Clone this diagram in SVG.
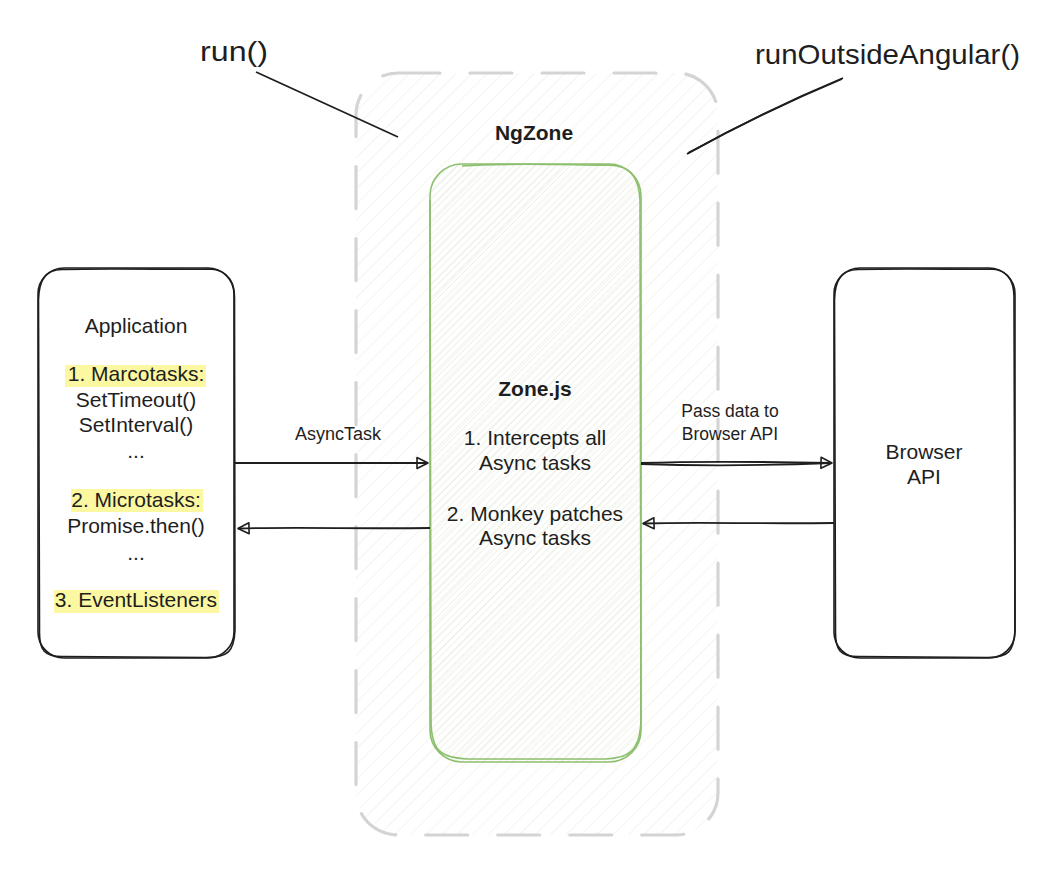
<svg xmlns="http://www.w3.org/2000/svg" width="1055" height="875" viewBox="0 0 1055 875">
  <style>
    .t { font-family: "Liberation Sans", Arial, sans-serif; fill: #1e1e1e; text-anchor: middle; }
    .b { font-weight: bold; }
    .f20 { font-size: 21px; }
    .hand { font-family: "Liberation Sans", Arial, sans-serif; fill: #1e1e1e; font-size: 28px; }
    .box { fill: none; stroke: #1e1e1e; stroke-width: 1.6; }
    .zone { fill: none; stroke: #8cbf6e; stroke-width: 1.6; }
    .conn { fill: none; stroke: #1e1e1e; stroke-width: 1.8; }
    .hl { fill: #fcf7a1; }
  </style>
  <defs>
    <pattern id="hatchNg" patternUnits="userSpaceOnUse" width="11" height="11" patternTransform="rotate(45)">
      <line x1="0" y1="0" x2="0" y2="11" stroke="#f4ebde" stroke-width="1.2"/>
    </pattern>
    <pattern id="hatchZone" patternUnits="userSpaceOnUse" width="5" height="5" patternTransform="rotate(45)">
      <line x1="0" y1="0" x2="0" y2="5" stroke="#d9e8d2" stroke-width="1"/>
    </pattern>
    <marker id="arr" viewBox="-12 -7 14 14" refX="0" refY="0" markerWidth="14" markerHeight="14" markerUnits="userSpaceOnUse" orient="auto">
      <path d="M-11,-5.5 L0,0 L-11,5.5 Z" fill="none" stroke="#1e1e1e" stroke-width="1.6" stroke-linejoin="round"/>
    </marker>
  </defs>
  <rect width="1055" height="875" fill="#ffffff"/>

  <g id="ngzone">
    <rect x="356" y="73" width="362" height="762" rx="42" fill="url(#hatchNg)"/>
    <rect x="356" y="73" width="362" height="762" rx="42" fill="none" stroke="#d4d4d4" stroke-width="3.2" stroke-dasharray="42 30" stroke-linecap="round"/>
    <text class="t b f20" x="534" y="140">NgZone</text>
  </g>

  <g id="zonejs">
    <rect x="430" y="164" width="211" height="598" rx="32" fill="url(#hatchZone)"/>
    <rect x="430" y="164" width="211" height="598" rx="32" class="zone"/>
    <path d="M462,166 C520,162 590,166 610,165 C632,166 639,180 640,200 L641,720 C640,752 628,758 606,759 L468,759 C440,758 431,750 431,720 L430,200" class="zone" stroke-width="1.1"/>
    <text class="t b f20" x="535" y="396">Zone.js</text>
    <text class="t f20" x="535" y="445">1. Intercepts all</text>
    <text class="t f20" x="535" y="470">Async tasks</text>
    <text class="t f20" x="535" y="521">2. Monkey patches</text>
    <text class="t f20" x="535" y="545">Async tasks</text>
  </g>

  <g id="application">
    <rect x="38" y="268" width="196" height="390" rx="26" class="box"/>
    <path d="M62,269.5 C110,268 190,270 210,269 C230,270 235,285 234.5,300 L235,630 C234,652 228,657 206,657.5 L64,656.5 C44,657 39,650 39.5,630 L38.5,300 C39,280 45,270 62,269.5" class="box" stroke-width="1"/>
    <rect class="hl" x="65" y="365" width="141" height="22"/>
    <rect class="hl" x="71" y="489" width="132" height="23"/>
    <rect class="hl" x="54" y="590" width="165" height="23"/>
    <text class="t f20" x="136" y="333">Application</text>
    <text class="t f20" x="136" y="381">1. Marcotasks:</text>
    <text class="t f20" x="136" y="407">SetTimeout()</text>
    <text class="t f20" x="136" y="432">SetInterval()</text>
    <text class="t f20" x="136" y="458">...</text>
    <text class="t f20" x="136" y="507">2. Microtasks:</text>
    <text class="t f20" x="136" y="533">Promise.then()</text>
    <text class="t f20" x="136" y="560">...</text>
    <text class="t f20" x="136" y="607">3. EventListeners</text>
  </g>

  <g id="browser-api">
    <rect x="834" y="268" width="181" height="390" rx="26" class="box"/>
    <path d="M858,269.5 C910,268 975,270 992,269 C1010,270 1014.5,285 1014,300 L1015,630 C1014,652 1008,657 988,657.5 L860,656.5 C840,657 835,650 835.5,630 L834.5,300 C835,280 841,270 858,269.5" class="box" stroke-width="1"/>
    <text class="t f20" x="924" y="459">Browser</text>
    <text class="t f20" x="924" y="484">API</text>
  </g>

  <g id="labels">
    <text class="hand" x="200" y="61" textLength="68" lengthAdjust="spacingAndGlyphs">run()</text>
    <text class="hand" x="755" y="64" textLength="265" lengthAdjust="spacingAndGlyphs">runOutsideAngular()</text>
  </g>

  <g id="connectors">
    <path class="conn" d="M256,72 L398,137"/>
    <path class="conn" d="M687,154 C730,130 790,100 843,78"/>
    <path class="conn" d="M688,153 C732,129 792,100 842,79" stroke-width="1"/>
    <path class="conn" d="M235,463 L428,463" marker-end="url(#arr)"/>
    <path class="conn" d="M430,528 C360,529 300,527 238,528.5" marker-end="url(#arr)"/>
    <path class="conn" d="M641,463 C700,461 780,462 832,463" marker-end="url(#arr)"/>
    <path class="conn" d="M641,464 C700,466 780,465 830,463" stroke-width="1"/>
    <path class="conn" d="M834,523 C760,524 700,522 643,523.5" marker-end="url(#arr)"/>
    <text class="t" style="font-size:18px" x="338" y="440">AsyncTask</text>
    <text class="t" style="font-size:17.5px" x="730" y="417">Pass data to</text>
    <text class="t" style="font-size:17.5px" x="730" y="440">Browser API</text>
  </g>
</svg>
